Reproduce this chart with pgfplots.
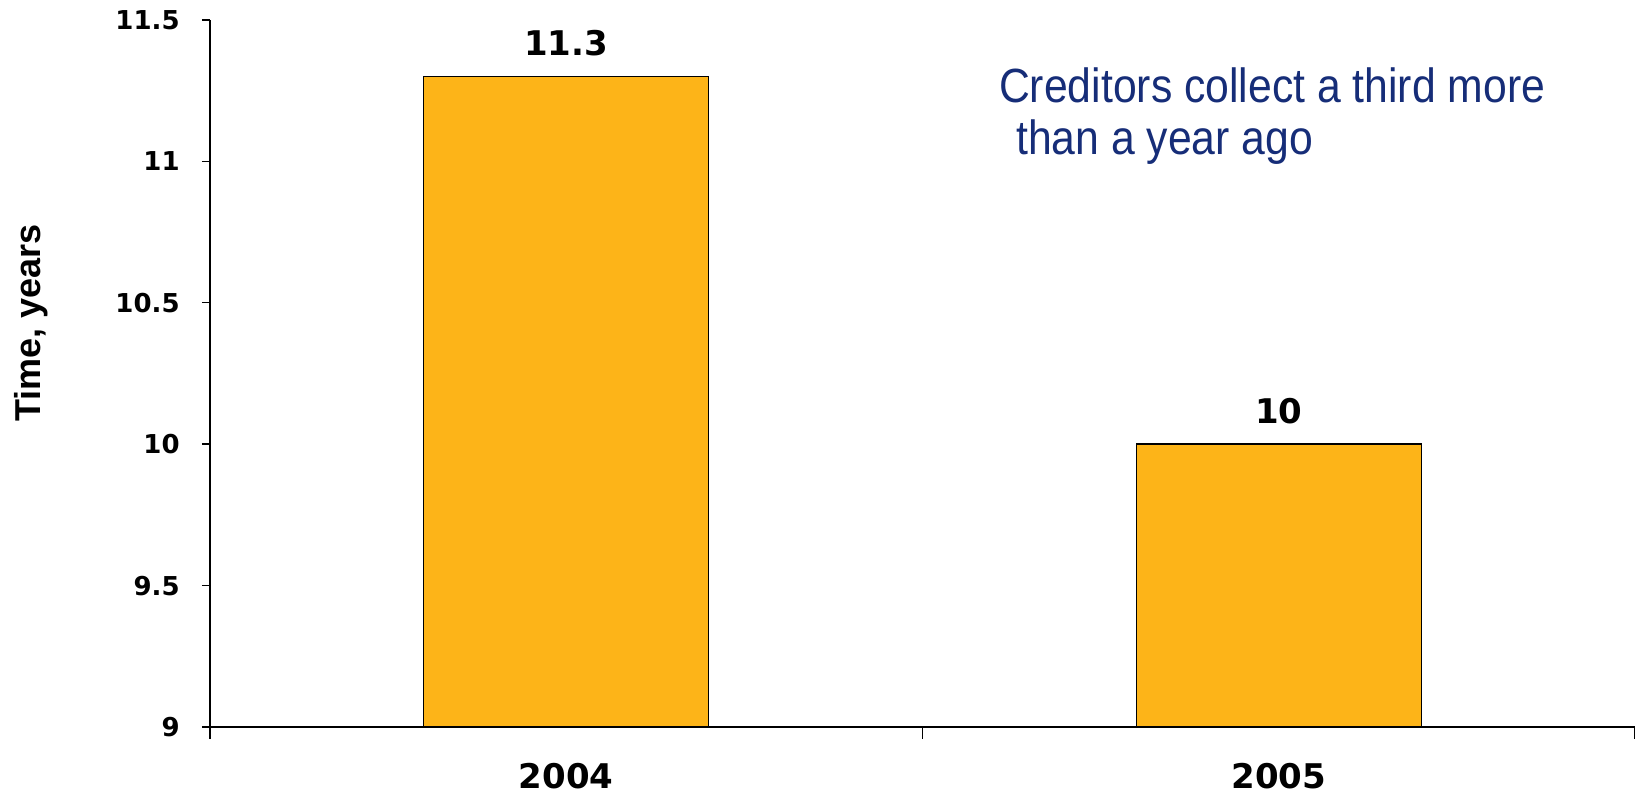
\documentclass[border=0pt]{standalone}
\usepackage{pgfplots}
\pgfplotsset{compat=1.18}
\usepackage{fontspec}
\setmainfont{Liberation Sans}
\newfontfamily\tickfont{DejaVu Sans}
\newfontfamily\annfont[FakeStretch=0.89]{Liberation Sans}
\definecolor{barorange}{RGB}{253,180,24}
\definecolor{navy}{RGB}{22,45,120}
\begin{document}
\begin{tikzpicture}
\begin{axis}[
  at={(0,0)}, anchor=south west,
  width=712.5pt, height=353.5pt, scale only axis,
  xmin=-0.5, xmax=1.5, ymin=9, ymax=11.5,
  axis x line*=bottom, axis y line*=left,
  axis line style={black, line width=0.9pt},
  ytick={9,9.5,10,10.5,11,11.5},
  yticklabels={9,9.5,10,10.5,11,11.5},
  xtick={0,1}, xticklabels={2004,2005},
  minor xtick={-0.5,0.5,1.5},
  every major x tick/.append style={draw=none},
  tick align=outside,
  major tick length=4pt, minor tick length=6pt,
  tick style={black, line width=0.7pt},
  yticklabel style={font=\tickfont\bfseries\fontsize{13}{15}\selectfont, anchor=east, inner sep=0pt, xshift=-11pt},
  xticklabel style={font=\tickfont\bfseries\fontsize{17}{20}\selectfont, anchor=north, inner sep=0pt, yshift=-14pt},
  ylabel={Time, years},
  ylabel style={font=\bfseries\fontsize{18}{21}\selectfont, at={(axis description cs:-0.1253,0.5714)}, anchor=center},
]
\addplot[ybar, bar width=0.4, bar shift=0pt, fill=barorange, draw=black, line width=0.7pt,
  nodes near coords, point meta=explicit symbolic,
  nodes near coords style={font=\tickfont\bfseries\fontsize{17}{20}\selectfont, anchor=south, inner sep=0pt, yshift=10pt, text=black}]
  coordinates {(0,11.3) [11.3] (1,10) [10]};
\node[anchor=base west, font=\annfont\fontsize{24}{28}\selectfont, text=navy, inner sep=0pt] at (axis cs:0.607,11.207) {Creditors collect a third more};
\node[anchor=base west, font=\annfont\fontsize{24}{28}\selectfont, text=navy, inner sep=0pt] at (axis cs:0.631,11.026) {than a year ago};
\end{axis}
\pgfresetboundingbox
\path (-105pt,-34.5pt) rectangle (712.5pt,363.5pt);
\end{tikzpicture}
\end{document}
